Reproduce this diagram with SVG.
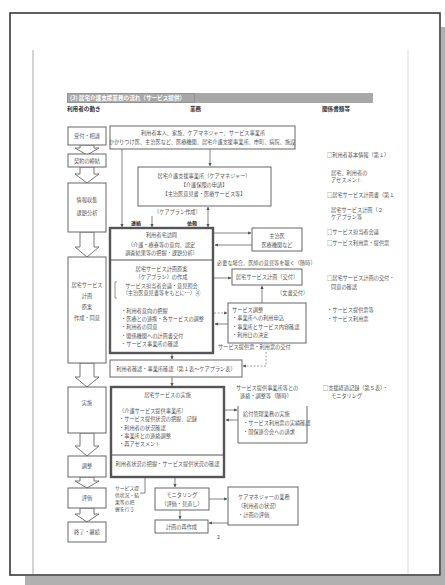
<svg xmlns="http://www.w3.org/2000/svg" width="445" height="585" viewBox="0 0 445 585">
<defs>
<marker id="ah" viewBox="0 0 6 6" refX="5.5" refY="3" markerWidth="4" markerHeight="4" orient="auto-start-reverse"><path d="M0,0 L6,3 L0,6 z" fill="#555"/></marker>
<style>
text{font-family:"Noto Sans CJK JP","Noto Sans",sans-serif;font-size:5.2px;fill:#555}
.c{text-anchor:middle}
.h{font-weight:bold;font-size:5.6px;fill:#333}
.t{fill:#fff;font-size:5.6px;font-weight:bold}
.b{fill:#fff;stroke:#666;stroke-width:1}
.bb{fill:#fff;stroke:#555;stroke-width:2.4}
.ar{fill:#fff;stroke:#777;stroke-width:1}
.ln{fill:none;stroke:#666;stroke-width:0.8}
.ld{fill:none;stroke:#888;stroke-width:0.8;stroke-dasharray:2 1.5}
</style>
</defs>
<rect x="0" y="0" width="445" height="585" fill="#fff"/>
<rect x="441" y="27" width="4" height="558" fill="#b0b0b0"/>
<rect x="25" y="576" width="420" height="9" fill="#b0b0b0"/>
<rect x="10" y="13" width="430" height="562" fill="#fff" stroke="#3a3a3a" stroke-width="1.6"/>
<line x1="33" y1="50" x2="33" y2="574" stroke="#aaa" stroke-width="1"/>
<line x1="408" y1="50" x2="408" y2="574" stroke="#ddd" stroke-width="1"/>

<g id="title">
<rect x="67" y="93" width="306" height="10" fill="#a8a8a8"/>
<rect x="67.5" y="93.5" width="127" height="9" fill="none" stroke="#888" stroke-width="0.6"/>
<text class="t" x="70" y="100.2">(3) 居宅介護支援業務の流れ（サービス提供）</text>
<text class="h" x="67" y="111">利用者の動き</text>
<text class="h" x="190" y="111">業務</text>
<text class="h" x="322" y="111">関係書類等</text>
</g>

<g id="left-flow">
<polygon class="ar" points="80,145 80,148 75,148 87,155 99,148 94,148 94,145"/>
<polygon class="ar" points="80,167 80,174 75,174 87,183 99,174 94,174 94,167"/>
<polygon class="ar" points="80,232 80,247 75,247 87,257 99,247 94,247 94,232"/>
<polygon class="ar" points="80,363 80,377 75,377 87,387 99,377 94,377 94,363"/>
<polygon class="ar" points="80,433 80,446 75,446 87,456 99,446 94,446 94,433"/>
<polygon class="ar" points="80,477 80,481 75,481 87,488 99,481 94,481 94,477"/>
<polygon class="ar" points="80,508 80,514 75,514 87,522 99,514 94,514 94,508"/>
</g>
<g id="l1"><rect class="b" x="68" y="127" width="38" height="18"/><text class="c" x="87" y="138">受付・相談</text></g>
<g id="l2"><rect class="b" x="68" y="154" width="38" height="13"/><text class="c" x="87" y="162.5">契約の締結</text></g>
<g id="l3"><rect class="b" x="68" y="183" width="38" height="49"/><text class="c" x="87" y="202">情報収集</text><text class="c" x="87" y="215">課題分析</text></g>
<g id="l4"><rect class="b" x="68" y="257" width="38" height="106"/><text class="c" x="87" y="287">居宅サービス</text><text class="c" x="87" y="298">計画</text><text class="c" x="87" y="309">原案</text><text class="c" x="87" y="320">作成・同意</text></g>
<g id="l5"><rect class="b" x="68" y="387" width="38" height="46"/><text class="c" x="87" y="405">実施</text></g>
<g id="l6"><rect class="b" x="68" y="456" width="38" height="21"/><text class="c" x="87" y="468">調整</text></g>
<g id="l7"><rect class="b" x="68" y="488" width="38" height="20"/><text class="c" x="87" y="500">評価</text></g>
<g id="l8"><rect class="b" x="68" y="522" width="38" height="20"/><text class="c" x="87" y="534">終了・継続</text></g>

<g id="connectors">
<line class="ln" x1="122" y1="149" x2="122" y2="227" marker-end="url(#ah)"/>
<line class="ln" x1="210" y1="149" x2="210" y2="166" marker-end="url(#ah)"/>
<line class="ln" x1="152" y1="216" x2="152" y2="227" marker-end="url(#ah)"/>
<line class="ln" x1="208" y1="207" x2="208" y2="227" marker-start="url(#ah)" marker-end="url(#ah)"/>
<line class="ln" x1="214" y1="233" x2="251" y2="233" marker-end="url(#ah)"/>
<line class="ln" x1="252" y1="245" x2="215" y2="245" marker-end="url(#ah)"/>
<line class="ln" x1="214" y1="278" x2="231" y2="278" marker-end="url(#ah)"/>
<line class="ln" x1="262" y1="303" x2="262" y2="286" marker-end="url(#ah)"/>
<line class="ld" x1="214" y1="313" x2="227" y2="313" marker-end="url(#ah)"/>
<line class="ln" x1="228" y1="324" x2="215" y2="324" marker-end="url(#ah)"/>
<path class="ld" d="M266,352 V366 H243" marker-end="url(#ah)"/>
<line class="ln" x1="172" y1="354" x2="172" y2="359" marker-end="url(#ah)"/>
<line class="ln" x1="172" y1="377" x2="172" y2="386" marker-end="url(#ah)"/>
<line class="ln" x1="225" y1="410" x2="237" y2="410" marker-end="url(#ah)"/>
<line class="ln" x1="238" y1="420" x2="226" y2="420" marker-end="url(#ah)"/>
<line class="ln" x1="175" y1="478" x2="175" y2="487" marker-end="url(#ah)"/>
<path class="ln" d="M145,478 V493 H140"/>
<line class="ln" x1="180" y1="510" x2="180" y2="519" marker-end="url(#ah)"/>
<line class="ln" x1="209" y1="499" x2="227" y2="499" marker-end="url(#ah)"/>
<line class="ln" x1="228" y1="523" x2="209" y2="523" marker-end="url(#ah)"/>
</g>

<g id="m-top"><rect class="b" x="110" y="126" width="185" height="23" stroke-width="1.4"/>
<text class="c" x="203" y="135">利用者本人、家族、ケアマネジャー、サービス事業所</text>
<text class="c" x="202" y="144">かかりつけ医、主治医など、医療機関、居宅介護支援事業所、市町、病院、施設</text></g>
<g id="m-center"><rect class="b" x="138" y="167" width="133" height="39"/>
<text class="c" x="204" y="178">居宅介護支援事業所（ケアマネジャー）</text>
<text class="c" x="204" y="187">【介護保険の申請】</text>
<text class="c" x="204" y="196">【主治医意見書・医療サービス等】</text></g>
<text x="154" y="214">〔ケアプラン作成〕</text>
<text x="131" y="225" class="h" style="font-size:5px">連絡</text>
<text x="187" y="225" class="h" style="font-size:5px">依頼</text>

<g id="m-main"><rect class="bb" x="110" y="228" width="103" height="125"/>
<line x1="110" y1="260" x2="213" y2="260" stroke="#555" stroke-width="1"/>
<text class="c" x="161.5" y="237">利用者宅訪問</text>
<text class="c" x="161.5" y="247">（介護・療養等の意向、認定</text>
<text class="c" x="161.5" y="255">調査結果等の把握・課題分析）</text>
<text class="c" x="161.5" y="271">居宅サービス計画原案</text>
<text class="c" x="161.5" y="279">（ケアプラン）の作成</text>
<text class="c" x="161.5" y="288">サービス担当者会議・意見照会</text>
<text class="c" x="161.5" y="295">（主治医意見書等をもとに…）④</text>
<path d="M117,282 H115 V298 H117" fill="none" stroke="#666" stroke-width="0.7"/>
<text x="121" y="313">・利用者意向の把握</text>
<text x="121" y="321">・医療との連携・各サービスの調整</text>
<text x="121" y="329">・利用者の同意</text>
<text x="121" y="338">・関係機関への計画書交付</text>
<text x="121" y="346">・サービス事業所の確認</text></g>

<g id="r-a"><rect class="b" x="252" y="228" width="50" height="23"/>
<text class="c" x="277" y="238">主治医</text><text class="c" x="277" y="247">医療機関など</text></g>
<text x="217" y="265">必要な場合、医師の意見等を聴く（随時）</text>
<g id="r-b"><rect class="b" x="232" y="269" width="70" height="16"/><text class="c" x="267" y="279">居宅サービス計画（交付）</text></g>
<text x="277" y="295">（文書交付）</text>
<g id="r-c"><rect class="b" x="228" y="303" width="78" height="40"/>
<text x="232" y="312">サービス調整</text>
<text x="232" y="320">・事業所への利用申込</text>
<text x="232" y="329">・事業所とサービス内容確認</text>
<text x="232" y="337">・利用日の決定</text></g>
<text x="218" y="349">サービス提供票・利用票の交付</text>

<g id="m-wide"><rect class="b" x="110" y="360" width="132" height="17"/>
<text class="c" x="176" y="370.5">利用者確認・事業所確認（第１表〜ケアプラン表）</text></g>

<g id="m-main2"><rect class="bb" x="111" y="387" width="113" height="90"/>
<line x1="111" y1="455" x2="224" y2="455" stroke="#555" stroke-width="1"/>
<text class="c" x="167.5" y="397">居宅サービスの実施</text>
<text x="119" y="413">（介護サービス提供事業所）</text>
<text x="119" y="421">・サービス提供状況の把握、記録</text>
<text x="119" y="430">・利用者の状況確認</text>
<text x="119" y="438">・事業所との連絡調整</text>
<text x="119" y="446">・再アセスメント</text>
<text class="c" x="167.5" y="466">利用者状況の把握・サービス提供状況の確認</text></g>

<text x="236" y="390">サービス提供事業所等との</text>
<text x="240" y="398">連絡・調整等（随時）</text>
<g id="r-d"><path class="b" d="M238,406 V443 H307 V406" fill="#fff"/>
<text x="243" y="416">給付管理業務の実施</text>
<text x="243" y="425">・サービス利用票の実績確認</text>
<text x="243" y="434">・国保連合会への請求</text></g>

<text x="115" y="490" style="font-size:4.8px">サービス提</text>
<text x="115" y="497" style="font-size:4.8px">供状況・結</text>
<text x="115" y="504" style="font-size:4.8px">果等の把</text>
<text x="115" y="511" style="font-size:4.8px">握を行う</text>

<g id="mon"><rect class="b" x="155" y="488" width="54" height="22"/>
<text class="c" x="182" y="497">モニタリング</text><text class="c" x="182" y="506">（評価・見直し）</text></g>
<g id="r-e"><rect class="b" x="228" y="487" width="70" height="38"/>
<text x="238" y="499">ケアマネジャーの業務</text>
<text x="238" y="508">（利用者の状況）</text>
<text x="238" y="517">・計画の評価</text></g>
<g id="redo"><rect class="b" x="155" y="520" width="53" height="13"/>
<text class="c" x="181.5" y="528.5">計画の再作成</text></g>
<text x="217" y="539">2</text>

<g id="docs">
<text x="327" y="157">□利用者基本情報（第１）</text>
<text x="331" y="175">居宅、利用者の</text>
<text x="331" y="182">アセスメント</text>
<text x="327" y="197">□居宅サービス計画書（第１</text>
<text x="331" y="212">居宅サービス計画（２</text>
<text x="331" y="219">ケアプラン等</text>
<text x="327" y="234">□サービス担当者会議</text>
<text x="327" y="245">□サービス利用票・提供票</text>
<text x="327" y="280">□居宅サービス計画の交付・</text>
<text x="331" y="289">同意の確認</text>
<text x="327" y="312">・サービス提供票等</text>
<text x="327" y="321">・サービス利用票</text>
<text x="323" y="390">□支援経過記録（第５表）・</text>
<text x="331" y="398">モニタリング</text>
</g>
</svg>
